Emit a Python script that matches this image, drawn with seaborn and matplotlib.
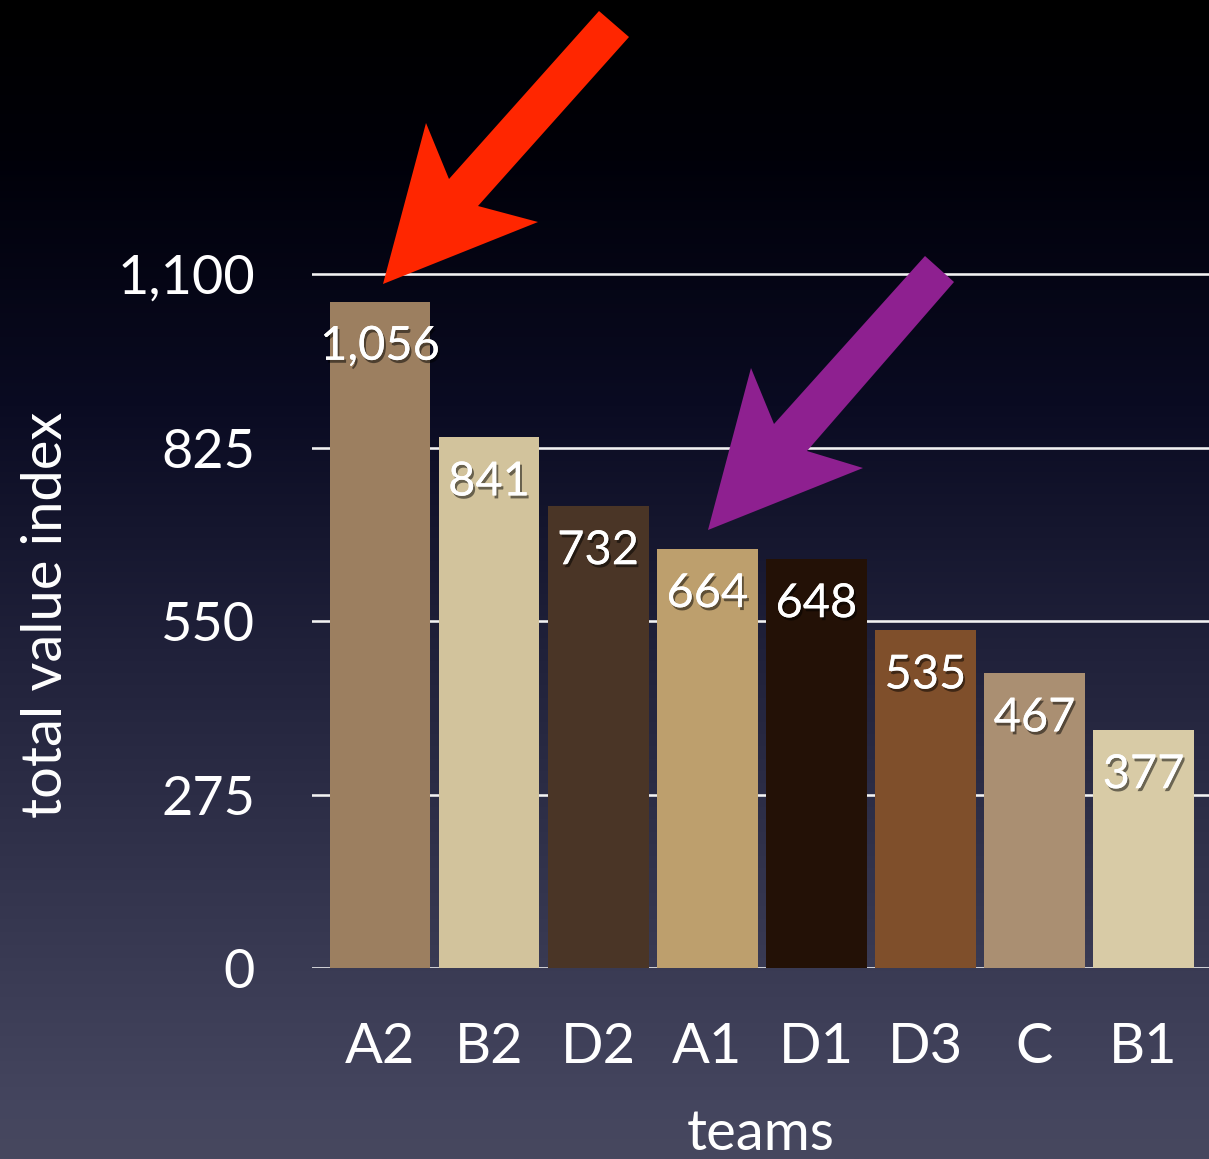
import numpy as np
import pandas as pd
import matplotlib
matplotlib.use("Agg")
import matplotlib.pyplot as plt
import matplotlib.patheffects as pe
from matplotlib.colors import to_rgb
from matplotlib.patches import Polygon
import seaborn as sns

# ---- data ----
teams = ["A2", "B2", "D2", "A1", "D1", "D3", "C", "B1"]
values = [1056, 841, 732, 664, 648, 535, 467, 377]
bar_colors = ["#9c7f60", "#d2c39c", "#4a3526", "#bd9f6d",
              "#231106", "#7f4f2b", "#aa8f72", "#d8cba6"]
y_ticks = [0, 275, 550, 825, 1100]

W, H = 1209, 1159
DPI = 72
FONT = ["Lato", "DejaVu Sans"]

fig = plt.figure(figsize=(W / DPI, H / DPI), dpi=DPI)

# ---- vertical background gradient ----
stops = [(0.00, "#000000"), (0.13, "#000008"), (0.35, "#0a0b22"),
         (0.56, "#20213a"), (0.76, "#33344d"), (0.95, "#44455e"),
         (1.00, "#47485f")]
pos = np.linspace(0, 1, 600)
grad = np.zeros((600, 1, 3))
for c in range(3):
    grad[:, 0, c] = np.interp(pos, [s[0] for s in stops],
                              [to_rgb(s[1])[c] for s in stops])
bg = fig.add_axes([0, 0, 1, 1], zorder=-10)
bg.imshow(grad, aspect="auto", extent=[0, 1, 0, 1], origin="upper",
          interpolation="bilinear")
bg.axis("off")

# ---- bar chart ----
ax_left, ax_bottom_px, ax_top_px = 312, 968, 261.4
ax = fig.add_axes([ax_left / W, (H - ax_bottom_px) / H,
                   (W - ax_left) / W, (ax_bottom_px - ax_top_px) / H])
ax.patch.set_alpha(0)

df = pd.DataFrame({"team": teams, "value": values})
sns.barplot(data=df, x="team", y="value", hue="team",
            palette=dict(zip(teams, bar_colors)), saturation=1,
            width=0.925, legend=False, ax=ax, zorder=3, linewidth=0)

ax.set_ylim(0, 1120)
ax.set_xlim(-0.623, 7.6)
ax.set_yticks(y_ticks)
ax.set_yticklabels([f"{t:,}" for t in y_ticks])
ax.set_xticks(range(len(teams)))
ax.set_xticklabels(teams)
for y in y_ticks:
    ax.axhline(y, color="#f2f2f2", lw=2.6, zorder=1)
for s in ax.spines.values():
    s.set_visible(False)
ax.tick_params(axis="both", length=0, colors="white")
ax.tick_params(axis="y", pad=57, labelsize=54)
ax.tick_params(axis="x", pad=54, labelsize=56)
for lab in ax.get_xticklabels() + ax.get_yticklabels():
    lab.set_family(FONT)
    lab.set_color("white")

ax.set_xlabel("teams", color="white", fontsize=56, family=FONT, labelpad=36)
ax.set_ylabel("total value index", color="white", fontsize=56,
              family=FONT, labelpad=45)

# value labels inside the bar tops
shadow = [pe.withSimplePatchShadow(offset=(2, -3), shadow_rgbFace="black",
                                   alpha=0.5), pe.Normal()]
for i, v in enumerate(values):
    ax.annotate(f"{v:,}", xy=(i, v), xytext=(0, -45),
                textcoords="offset points", ha="center", va="center",
                color="white", fontsize=47, family=FONT, zorder=5,
                path_effects=shadow)

# ---- pointer arrows ----
def fig_poly(pts, color):
    xy = [(x / W, 1 - y / H) for x, y in pts]
    fig.patches.append(Polygon(xy, closed=True, transform=fig.transFigure,
                               facecolor=color, edgecolor="none", zorder=10))

fig_poly([(599, 11), (629, 37), (478, 206), (538, 222), (383, 284),
          (426, 123), (449, 179)], "#ff2600")
fig_poly([(925, 256), (954, 282), (807, 451), (863, 468), (708, 530),
          (751, 368), (774, 424)], "#8e2090")

fig.savefig("out.png", dpi=DPI)
